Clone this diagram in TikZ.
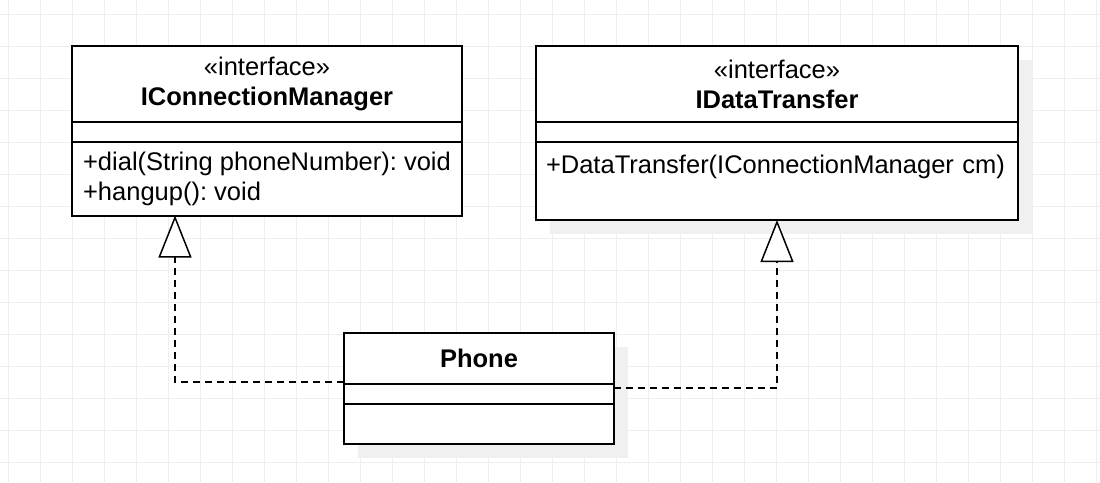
\documentclass[tikz,border=0pt]{standalone}
\usepackage{fontspec}
\setmainfont{Liberation Sans}
\usetikzlibrary{positioning, arrows.meta, backgrounds}

\definecolor{gridgrey}{HTML}{EEEEEE}
\definecolor{shadowgrey}{HTML}{F0F0F0}

\tikzset{
    umlpart/.style={draw, line width=2pt, fill=white, outer sep=0pt, inner sep=0pt,
        font=\fontsize{25.5}{30}\selectfont\frenchspacing},
    gridline/.style={gridgrey, line width=1pt},
    realize/.style={dash pattern=on 7pt off 5pt, line width=2pt,
        -{Triangle[fill=white, width=33pt, length=42pt, line width=1.5pt]}}
}

\begin{document}
\begin{tikzpicture}[x=1pt, y=-1pt]
        \useasboundingbox (0,0) rectangle (1100,482);
        \node [umlpart, minimum width=390pt, minimum height=76pt, align=center] (cmhead) at (267,84) {«interface»\\\textbf{IConnectionManager}};
        \node [umlpart, minimum width=390pt, minimum height=20pt, below=0pt of cmhead] (cmattr) {};
        \node [umlpart, minimum width=390pt, minimum height=73.5pt, align=left, below=0pt of cmattr] (cmops) {+dial(String phoneNumber): void\\+hangup(): void};
        \node [umlpart, minimum width=482pt, minimum height=76pt, align=center] (dthead) at (777,84) {«interface»\\\textbf{IDataTransfer}};
        \node [umlpart, minimum width=482pt, minimum height=20pt, below=0pt of dthead] (dtattr) {};
        \node [umlpart, inner xsep=10pt, inner ysep=4pt, text width=462pt, text height=27pt, text depth=43pt, align=left, below=0pt of dtattr] (dtops) {+DataTransfer(IConnectionManager cm)};
        \node [umlpart, minimum width=270pt, minimum height=51pt] (phhead) at (479,358.5) {\textbf{Phone}};
        \node [umlpart, minimum width=270pt, minimum height=20pt, below=0pt of phhead] (phattr) {};
        \node [umlpart, minimum width=270pt, minimum height=40pt, below=0pt of phattr] (phops) {};
        \draw [realize] ([yshift=2pt]phhead.south west) -| ([xshift=-92pt]cmops.south);
        \draw [realize] ([yshift=-4pt]phattr.north east) -| (dtops.south);
        \begin{scope}[on background layer]
            \fill [white] (0,0) rectangle (1100,482);
            \foreach \gx in {8,40,...,1096} \draw [gridline] (\gx,0) -- (\gx,482);
            \foreach \gy in {14,46,...,478} \draw [gridline] (0,\gy) -- (1100,\gy);
            \fill [shadowgrey] ([shift={(14pt,-14pt)}]dthead.north west) rectangle ([shift={(14pt,-14pt)}]dtops.south east);
            \fill [shadowgrey] ([shift={(14pt,-14pt)}]phhead.north west) rectangle ([shift={(14pt,-14pt)}]phops.south east);
        \end{scope}
    \end{tikzpicture}
\end{document}
